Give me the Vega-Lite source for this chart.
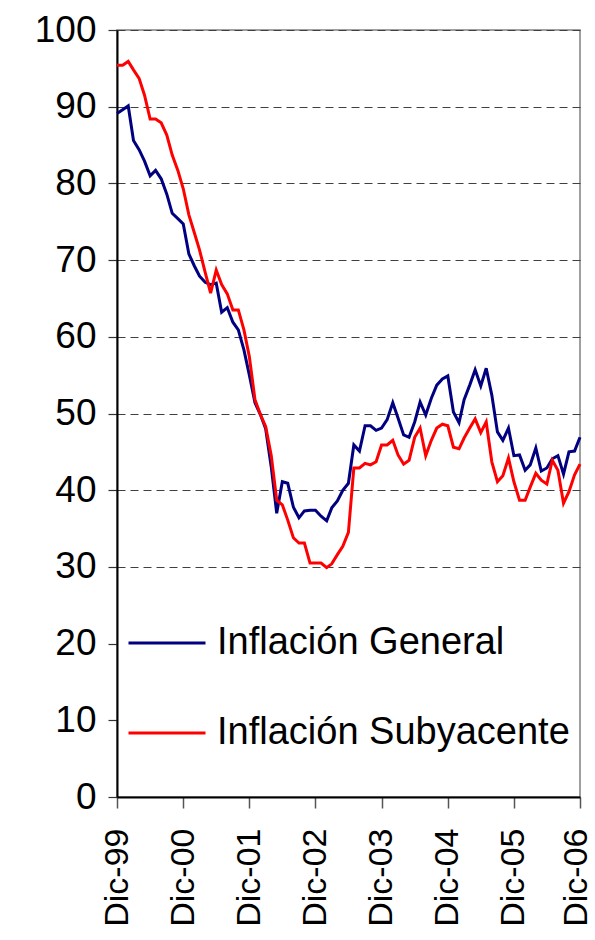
{
  "$schema": "https://vega.github.io/schema/vega-lite/v6.json",
  "autosize": {"type": "none"},
  "padding": {"left": 117, "top": 30, "right": 15, "bottom": 143},
  "width": 463,
  "height": 767,
  "background": "white",
  "config": {
    "font": "Liberation Sans",
    "view": {"stroke": "#808080", "strokeWidth": 1.5}
  },
  "data": {
    "values": [
      {"fecha": "1999-12-01", "general": 89.1, "subyacente": 95.4},
      {"fecha": "2000-01-01", "general": 89.6, "subyacente": 95.4},
      {"fecha": "2000-02-01", "general": 90.1, "subyacente": 95.9},
      {"fecha": "2000-03-01", "general": 85.6, "subyacente": 94.8},
      {"fecha": "2000-04-01", "general": 84.4, "subyacente": 93.7},
      {"fecha": "2000-05-01", "general": 82.9, "subyacente": 91.5},
      {"fecha": "2000-06-01", "general": 81.0, "subyacente": 88.4},
      {"fecha": "2000-07-01", "general": 81.7, "subyacente": 88.4},
      {"fecha": "2000-08-01", "general": 80.6, "subyacente": 87.9},
      {"fecha": "2000-09-01", "general": 78.6, "subyacente": 86.3},
      {"fecha": "2000-10-01", "general": 76.1, "subyacente": 83.7},
      {"fecha": "2000-11-01", "general": 75.4, "subyacente": 81.7},
      {"fecha": "2000-12-01", "general": 74.7, "subyacente": 79.3},
      {"fecha": "2001-01-01", "general": 70.8, "subyacente": 75.9},
      {"fecha": "2001-02-01", "general": 69.2, "subyacente": 73.5},
      {"fecha": "2001-03-01", "general": 67.9, "subyacente": 71.3},
      {"fecha": "2001-04-01", "general": 67.1, "subyacente": 68.4},
      {"fecha": "2001-05-01", "general": 66.8, "subyacente": 65.7},
      {"fecha": "2001-06-01", "general": 67.0, "subyacente": 68.7},
      {"fecha": "2001-07-01", "general": 63.2, "subyacente": 66.8},
      {"fecha": "2001-08-01", "general": 63.8, "subyacente": 65.6},
      {"fecha": "2001-09-01", "general": 61.9, "subyacente": 63.5},
      {"fecha": "2001-10-01", "general": 60.9, "subyacente": 63.5},
      {"fecha": "2001-11-01", "general": 58.3, "subyacente": 60.9},
      {"fecha": "2001-12-01", "general": 55.0, "subyacente": 57.4},
      {"fecha": "2002-01-01", "general": 51.4, "subyacente": 51.8},
      {"fecha": "2002-02-01", "general": 49.8, "subyacente": 49.8},
      {"fecha": "2002-03-01", "general": 48.0, "subyacente": 48.3},
      {"fecha": "2002-04-01", "general": 43.0, "subyacente": 44.5},
      {"fecha": "2002-05-01", "general": 37.0, "subyacente": 38.7},
      {"fecha": "2002-06-01", "general": 41.1, "subyacente": 38.1},
      {"fecha": "2002-07-01", "general": 40.9, "subyacente": 36.1},
      {"fecha": "2002-08-01", "general": 37.8, "subyacente": 33.8},
      {"fecha": "2002-09-01", "general": 36.4, "subyacente": 33.1},
      {"fecha": "2002-10-01", "general": 37.3, "subyacente": 33.1},
      {"fecha": "2002-11-01", "general": 37.4, "subyacente": 30.5},
      {"fecha": "2002-12-01", "general": 37.4, "subyacente": 30.5},
      {"fecha": "2003-01-01", "general": 36.6, "subyacente": 30.5},
      {"fecha": "2003-02-01", "general": 36.0, "subyacente": 29.9},
      {"fecha": "2003-03-01", "general": 37.7, "subyacente": 30.4},
      {"fecha": "2003-04-01", "general": 38.6, "subyacente": 31.6},
      {"fecha": "2003-05-01", "general": 40.0, "subyacente": 32.7},
      {"fecha": "2003-06-01", "general": 40.9, "subyacente": 34.5},
      {"fecha": "2003-07-01", "general": 45.9, "subyacente": 42.9},
      {"fecha": "2003-08-01", "general": 45.1, "subyacente": 42.9},
      {"fecha": "2003-09-01", "general": 48.4, "subyacente": 43.5},
      {"fecha": "2003-10-01", "general": 48.4, "subyacente": 43.3},
      {"fecha": "2003-11-01", "general": 47.8, "subyacente": 43.7},
      {"fecha": "2003-12-01", "general": 48.1, "subyacente": 45.9},
      {"fecha": "2004-01-01", "general": 49.2, "subyacente": 45.9},
      {"fecha": "2004-02-01", "general": 51.4, "subyacente": 46.5},
      {"fecha": "2004-03-01", "general": 49.4, "subyacente": 44.6},
      {"fecha": "2004-04-01", "general": 47.2, "subyacente": 43.4},
      {"fecha": "2004-05-01", "general": 46.9, "subyacente": 43.9},
      {"fecha": "2004-06-01", "general": 48.9, "subyacente": 46.9},
      {"fecha": "2004-07-01", "general": 51.5, "subyacente": 48.1},
      {"fecha": "2004-08-01", "general": 49.8, "subyacente": 44.5},
      {"fecha": "2004-09-01", "general": 52.0, "subyacente": 46.5},
      {"fecha": "2004-10-01", "general": 53.7, "subyacente": 48.1},
      {"fecha": "2004-11-01", "general": 54.5, "subyacente": 48.6},
      {"fecha": "2004-12-01", "general": 54.9, "subyacente": 48.4},
      {"fecha": "2005-01-01", "general": 50.2, "subyacente": 45.6},
      {"fecha": "2005-02-01", "general": 48.8, "subyacente": 45.4},
      {"fecha": "2005-03-01", "general": 51.8, "subyacente": 46.8},
      {"fecha": "2005-04-01", "general": 53.7, "subyacente": 48.1},
      {"fecha": "2005-05-01", "general": 55.7, "subyacente": 49.3},
      {"fecha": "2005-06-01", "general": 53.6, "subyacente": 47.5},
      {"fecha": "2005-07-01", "general": 55.9, "subyacente": 48.9},
      {"fecha": "2005-08-01", "general": 52.4, "subyacente": 43.7},
      {"fecha": "2005-09-01", "general": 47.6, "subyacente": 41.1},
      {"fecha": "2005-10-01", "general": 46.5, "subyacente": 41.9},
      {"fecha": "2005-11-01", "general": 48.1, "subyacente": 44.2},
      {"fecha": "2005-12-01", "general": 44.5, "subyacente": 41.1},
      {"fecha": "2006-01-01", "general": 44.6, "subyacente": 38.7},
      {"fecha": "2006-02-01", "general": 42.6, "subyacente": 38.7},
      {"fecha": "2006-03-01", "general": 43.3, "subyacente": 40.4},
      {"fecha": "2006-04-01", "general": 45.5, "subyacente": 42.2},
      {"fecha": "2006-05-01", "general": 42.5, "subyacente": 41.3},
      {"fecha": "2006-06-01", "general": 42.9, "subyacente": 40.8},
      {"fecha": "2006-07-01", "general": 44.1, "subyacente": 43.9},
      {"fecha": "2006-08-01", "general": 44.5, "subyacente": 42.6},
      {"fecha": "2006-09-01", "general": 42.1, "subyacente": 38.3},
      {"fecha": "2006-10-01", "general": 45.0, "subyacente": 39.8},
      {"fecha": "2006-11-01", "general": 45.1, "subyacente": 42.0},
      {"fecha": "2006-12-01", "general": 46.9, "subyacente": 43.4}
    ]
  },
  "transform": [
    {"fold": ["general", "subyacente"], "as": ["clave", "valor"]},
    {"lookup": "clave", "from": {"data": {"values": [
      {"clave": "general", "serie": "Inflación General"},
      {"clave": "subyacente", "serie": "Inflación Subyacente"}
    ]}, "key": "clave", "fields": ["serie"]}}
  ],
  "mark": {"type": "line", "strokeWidth": 3},
  "encoding": {
    "x": {
      "field": "fecha",
      "type": "temporal",
      "scale": {
        "type": "utc",
        "nice": false,
        "domain": [
          {"year": 1999, "month": 12, "date": 1, "utc": true},
          {"year": 2006, "month": 12, "date": 1, "utc": true}
        ]
      },
      "axis": {
        "title": null,
        "values": [
          {"year": 1999, "month": 12, "date": 1, "utc": true},
          {"year": 2000, "month": 12, "date": 1, "utc": true},
          {"year": 2001, "month": 12, "date": 1, "utc": true},
          {"year": 2002, "month": 12, "date": 1, "utc": true},
          {"year": 2003, "month": 12, "date": 1, "utc": true},
          {"year": 2004, "month": 12, "date": 1, "utc": true},
          {"year": 2005, "month": 12, "date": 1, "utc": true},
          {"year": 2006, "month": 12, "date": 1, "utc": true}
        ],
        "labelExpr": "'Dic-' + utcFormat(datum.value, '%y')",
        "labelAngle": 270,
        "labelAlign": "right",
        "labelBaseline": "middle",
        "labelFontSize": 34,
        "labelColor": "black",
        "labelPadding": 20,
        "labelOffset": {"condition": {"test": "utcyear(datum.value) == 2006", "value": -4}, "value": 0},
        "labelOverlap": false,
        "labelFlush": false,
        "grid": false,
        "domainColor": "black",
        "domainWidth": 2,
        "tickColor": "#555555",
        "tickSize": 11,
        "tickWidth": 1.5
      }
    },
    "y": {
      "field": "valor",
      "type": "quantitative",
      "scale": {"domain": [0, 100], "nice": false},
      "axis": {
        "title": null,
        "values": [0, 10, 20, 30, 40, 50, 60, 70, 80, 90, 100],
        "labelFontSize": 37,
        "labelColor": "black",
        "labelPadding": 12,
        "domainColor": "black",
        "domainWidth": 2,
        "tickColor": "#333333",
        "tickSize": 9,
        "tickWidth": 1.2,
        "grid": true,
        "gridColor": "#404040",
        "gridDash": [8, 5],
        "gridWidth": 1.2,
        "gridOpacity": {"condition": {"test": "datum.value <= 20", "value": 0}, "value": 1}
      }
    },
    "color": {
      "field": "serie",
      "type": "nominal",
      "scale": {
        "domain": ["Inflación General", "Inflación Subyacente"],
        "range": ["#000080", "#ff0000"]
      },
      "legend": {
        "title": null,
        "orient": "none",
        "legendX": 7,
        "legendY": 570,
        "direction": "vertical",
        "symbolType": "stroke",
        "symbolSize": 5929,
        "symbolStrokeWidth": 2.8,
        "labelFontSize": 38,
        "labelColor": "black",
        "labelOffset": 10,
        "labelLimit": 500,
        "rowPadding": 31,
        "padding": 3
      }
    }
  }
}
